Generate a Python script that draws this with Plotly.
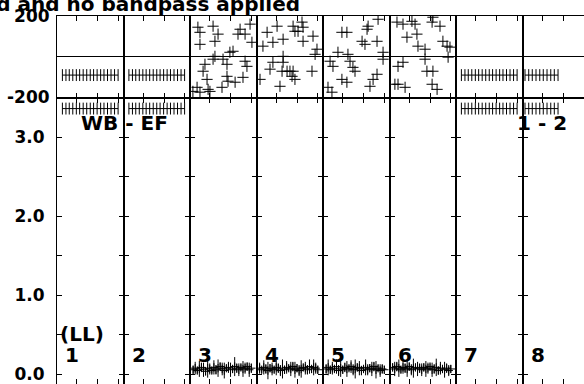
import plotly.graph_objects as go

# ---------------- data ----------------
panel_numbers = ["1", "2", "3", "4", "5", "6", "7", "8"]
phase_ticks = [-200, 200]
phase_ticktext = ["-200", "200"]
amp_ticks = [0.0, 0.5, 1.0, 1.5, 2.0, 2.5, 3.0]
amp_ticktext = ["0.0", "", "1.0", "", "2.0", "", "3.0"]
chan_ticks = [10, 20, 30]

# clean IFs (panels 1, 2, 7, 8): flat phase / amplitude
clean_ch = [3.1, 4.8, 6.4, 8.1, 9.8, 11.4, 13.1, 14.8, 16.5, 18.1, 19.8, 21.5, 23.1, 24.8, 26.5, 28.2, 29.9]
clean_ch_p8 = [1.7, 3.5, 5.2, 7.0, 8.8, 10.5, 12.3, 14.1, 15.8, 17.6]
clean_phase = -90.0
clean_amp = 3.36

# noisy IFs (panels 3-6): phase scatter
p3_ch = [4.3, 5.3, 11.6, 14.0, 12.5, 24.6, 23.6, 30.3, 21.2, 19.7, 12.5, 11.6, 16.4, 18.3, 27.0, 27.9, 7.7, 6.8,
         8.7, 18.3, 18.8, 26.0, 15.9, 22.2, 9.2, 3.9, 1.9, 5.3, 10.1, 29.4, 27.0, 5.3]
p3_ph = [145, 120, 150, 111, 76, 135, 111, 71, 27, 22, 2, -12, -12, -37, -22, -47, -37, -71,
         -111, -96, -120, -101, -150, -125, -160, -150, -170, -174, -170, 160, 111, 61]
p4_ch = [5.6, 10.4, 8.4, 3.6, 13.3, 18.1, 19.0, 13.3, 8.4, 7.0, 11.8, 17.6, 18.1, 15.2, 22.4, 22.9, 20.5, 22.9,
         27.7, 29.6, 28.7, 13.3, 16.6, 19.0, 27.2, 12.8, 2.2]
p4_ph = [120, 150, 71, 52, 86, 150, 125, 2, -27, -61, -145, -96, -71, -71, 170, 145, 125, 76,
         101, 37, 12, -27, -71, -111, -71, -71, -111]
p5_ch = [9.6, 12.0, 21.7, 22.2, 27.0, 19.3, 20.7, 26.5, 7.7, 12.5, 13.5, 3.9, 5.3, 15.9, 14.9, 26.5, 24.6, 23.1,
         12.0, 9.6, 4.8, 2.9, 29.4, 29.4]
p5_ph = [120, 120, 135, 150, 184, 76, 61, 76, 22, 12, -22, -22, -47, -71, -52, -86, -111, -145,
         -125, -111, -174, -150, -12, 22]
p6_ch = [4.1, 7.0, 11.3, 12.8, 21.0, 21.4, 24.8, 8.9, 13.7, 14.2, 17.6, 26.2, 28.2, 29.6, 28.7, 7.0, 4.6, 18.5,
         21.4, 21.0, 23.4, 4.6, 3.1, 8.0, 17.6]
p6_ph = [170, 160, 174, 160, 170, 194, 150, 96, 111, 52, 37, 76, 52, 47, -2, -27, -47, -71,
         -71, -135, -160, -135, -135, -150, -12]

# noisy IFs: amplitude
noisy_ch = [2, 3, 4, 5, 6, 7, 8, 9, 10, 11, 12, 13, 14, 15, 16, 17, 18, 19, 20, 21, 22, 23, 24, 25, 26, 27, 28, 29, 30]
p3_amp = [0.06, 0.08, 0.05, 0.07, 0.09, 0.06, 0.04, 0.08, 0.07, 0.05, 0.09, 0.06, 0.08, 0.10, 0.07,
          0.05, 0.08, 0.09, 0.06, 0.07, 0.10, 0.08, 0.06, 0.09, 0.07, 0.08, 0.10, 0.06, 0.08]
p3_err = [0.05, 0.08, 0.04, 0.10, 0.06, 0.09, 0.05, 0.12, 0.07, 0.04, 0.09, 0.06, 0.11, 0.05, 0.08,
          0.10, 0.04, 0.07, 0.09, 0.05, 0.12, 0.06, 0.08, 0.04, 0.10, 0.07, 0.05, 0.09, 0.06]
p4_amp = [0.08, 0.06, 0.09, 0.07, 0.05, 0.08, 0.07, 0.06, 0.09, 0.08, 0.05, 0.07, 0.06, 0.09, 0.08,
          0.07, 0.10, 0.06, 0.08, 0.05, 0.07, 0.09, 0.08, 0.06, 0.10, 0.07, 0.09, 0.08, 0.06]
p4_err = [0.07, 0.04, 0.09, 0.06, 0.11, 0.05, 0.08, 0.04, 0.10, 0.06, 0.07, 0.12, 0.05, 0.08, 0.04,
          0.09, 0.06, 0.10, 0.05, 0.07, 0.11, 0.04, 0.08, 0.06, 0.09, 0.05, 0.10, 0.07, 0.05]
p5_amp = [0.07, 0.09, 0.06, 0.08, 0.07, 0.10, 0.05, 0.08, 0.06, 0.09, 0.07, 0.08, 0.10, 0.06, 0.07,
          0.09, 0.08, 0.05, 0.07, 0.09, 0.06, 0.08, 0.07, 0.10, 0.06, 0.08, 0.05, 0.07, 0.06]
p5_err = [0.06, 0.10, 0.05, 0.08, 0.04, 0.09, 0.07, 0.11, 0.05, 0.06, 0.10, 0.04, 0.08, 0.07, 0.12,
          0.05, 0.09, 0.06, 0.04, 0.10, 0.07, 0.05, 0.09, 0.06, 0.11, 0.04, 0.08, 0.06, 0.05]
p6_amp = [0.09, 0.07, 0.10, 0.08, 0.06, 0.09, 0.08, 0.07, 0.10, 0.06, 0.08, 0.09, 0.07, 0.08, 0.06,
          0.09, 0.07, 0.08, 0.10, 0.06, 0.07, 0.09, 0.05, 0.08, 0.07, 0.06, 0.08, 0.05, 0.07]
p6_err = [0.05, 0.09, 0.06, 0.11, 0.04, 0.08, 0.06, 0.10, 0.05, 0.07, 0.12, 0.04, 0.09, 0.06, 0.08,
          0.05, 0.10, 0.07, 0.04, 0.09, 0.06, 0.11, 0.05, 0.08, 0.04, 0.10, 0.06, 0.07, 0.05]

title_text = "Phase uncalibrated and no bandpass applied"
label_baseline = "WB - EF"
label_pair = "1 - 2"
label_pol = "(LL)"

# ---------------- layout geometry ----------------
W, H = 584, 384
L, T = 57, 16
PW = 66.5                      # panel width in px
plot_w = W - L
plot_h = H - T
phase_h = 81.5
ysplit = 1 - phase_h / plot_h
FONT = "DejaVu Sans"

fig = go.Figure()

def ax_id(row, i):
    k = row * 8 + i + 1
    return ("x" if k == 1 else f"x{k}"), ("y" if k == 1 else f"y{k}")

clean_panels = {0: clean_ch, 1: clean_ch, 6: clean_ch, 7: clean_ch_p8}
noisy_panels = {2: (p3_ch, p3_ph, p3_amp, p3_err), 3: (p4_ch, p4_ph, p4_amp, p4_err),
                4: (p5_ch, p5_ph, p5_amp, p5_err), 5: (p6_ch, p6_ph, p6_amp, p6_err)}

for i in range(8):
    xa0, ya0 = ax_id(0, i)
    xa1, ya1 = ax_id(1, i)
    if i in clean_panels:
        ch = clean_panels[i]
        for xa, ya, val in ((xa0, ya0, clean_phase), (xa1, ya1, clean_amp)):
            fig.add_trace(go.Scatter(x=ch, y=[val] * len(ch), xaxis=xa, yaxis=ya,
                                     mode="lines+markers", line=dict(color="black", width=1),
                                     marker=dict(symbol="line-ns-open", size=8.5, color="black",
                                                 line=dict(color="black", width=1)),
                                     showlegend=False, hoverinfo="skip"))
    else:
        ch, ph, amp, err = noisy_panels[i]
        fig.add_trace(go.Scatter(x=ch, y=ph, xaxis=xa0, yaxis=ya0, mode="markers",
                                 marker=dict(symbol="cross-thin-open", size=8, color="black",
                                             line=dict(color="black", width=1)),
                                 showlegend=False, hoverinfo="skip"))
        fig.add_trace(go.Scatter(x=noisy_ch, y=amp, xaxis=xa1, yaxis=ya1, mode="markers",
                                 marker=dict(symbol="cross-thin-open", size=6, color="black",
                                             line=dict(color="black", width=1)),
                                 error_y=dict(type="data", array=err, color="black", thickness=1, width=0),
                                 showlegend=False, hoverinfo="skip"))

tickfont = dict(family=FONT, size=17, color="black", weight="bold")
for i in range(8):
    x0 = i * PW / plot_w
    x1 = min((i + 1) * PW / plot_w, 1.0)
    frac = (x1 - x0) * plot_w / PW
    xr = [0.5, 0.5 + 32 * frac]
    for row in range(2):
        k = row * 8 + i + 1
        xkey = "xaxis" if k == 1 else f"xaxis{k}"
        ykey = "yaxis" if k == 1 else f"yaxis{k}"
        xa, ya = ax_id(row, i)
        dom_y = [ysplit, 1.0] if row == 0 else [0.0, ysplit]
        fig.layout[xkey] = dict(domain=[x0, x1], range=xr, anchor=ya, showgrid=False, zeroline=False,
                                showline=True, linecolor="black", linewidth=1, mirror="allticks",
                                ticks="inside", ticklen=5, tickcolor="black", tickwidth=1,
                                tickvals=chan_ticks, showticklabels=False, automargin=False)
        common_y = dict(domain=dom_y, anchor=xa, showgrid=False, showline=True, linecolor="black",
                        linewidth=1, mirror=("allticks" if i < 7 else False), ticks="inside",
                        ticklen=5, tickcolor="black", tickwidth=1, automargin=False,
                        showticklabels=(i == 0), tickfont=tickfont, ticklabeloverflow="allow")
        if row == 0:
            fig.layout[ykey] = dict(**common_y, range=[-200, 200], tickvals=phase_ticks,
                                    ticktext=phase_ticktext, zeroline=True, zerolinecolor="black",
                                    zerolinewidth=1, ticklabelstandoff=3)
        else:
            fig.layout[ykey] = dict(**common_y, range=[-0.12, 3.5], tickvals=amp_ticks,
                                    ticktext=amp_ticktext, zeroline=False, ticklabelstandoff=8)

def px2paper(px, py):
    return (px - L) / plot_w, (H - py) / plot_h

annots = []
tx, ty = px2paper(302, 4)
annots.append(dict(text=title_text, x=tx, y=ty, xanchor="right", yanchor="middle", size=20))
ax_, ay_ = px2paper(124, 123)
annots.append(dict(text=label_baseline, x=ax_, y=ay_, xanchor="center", yanchor="middle", size=20))
ax_, ay_ = px2paper(542, 123)
annots.append(dict(text=label_pair, x=ax_, y=ay_, xanchor="center", yanchor="middle", size=20))
ax_, ay_ = px2paper(58, 334)
annots.append(dict(text=label_pol, x=ax_, y=ay_, xanchor="left", yanchor="middle", size=20))
for i, lab in enumerate(panel_numbers):
    ax_, ay_ = px2paper(L + i * PW + 15, 355)
    annots.append(dict(text=lab, x=ax_, y=ay_, xanchor="center", yanchor="middle", size=20))
for a in annots:
    sz = a.pop("size")
    a.update(xref="paper", yref="paper", showarrow=False,
             font=dict(family=FONT, size=sz, color="black", weight="bold"))

fig.update_layout(width=W, height=H, margin=dict(l=L, r=0, t=T, b=0),
                  paper_bgcolor="white", plot_bgcolor="white", annotations=annots)

fig.write_html("out.html", config={"displayModeBar": False},
               post_script="document.body.style.margin='0';document.body.style.overflow='hidden';")
